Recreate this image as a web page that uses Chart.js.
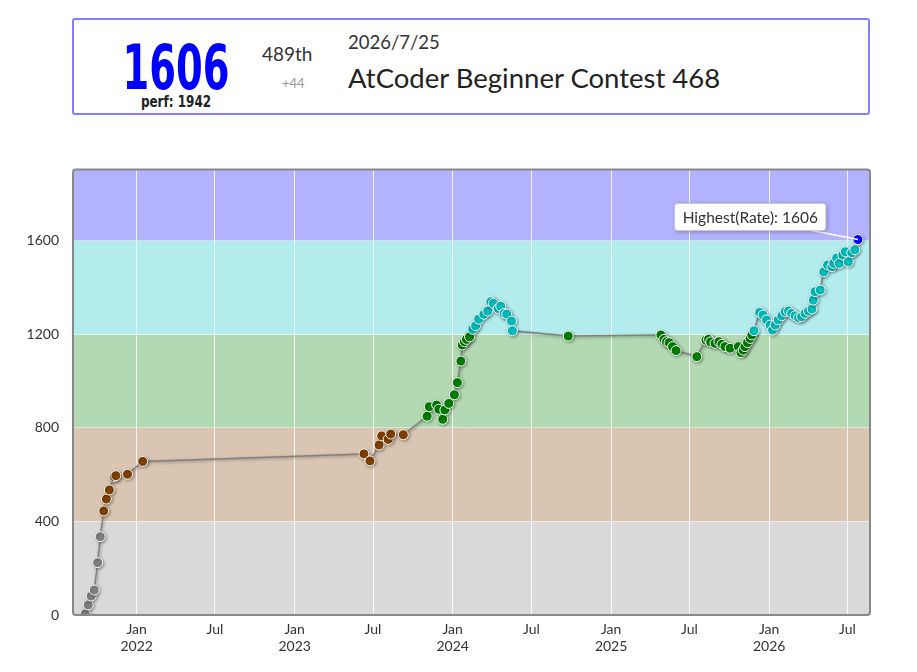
<!DOCTYPE html>
<html>
<head>
<meta charset="utf-8">
<script src="https://cdn.jsdelivr.net/npm/chart.js@4.4.1/dist/chart.umd.min.js"></script>
<style>
  body { margin: 0; background: #fff; font-family: Lato, "Noto Sans", sans-serif; }
  #head {
    position: absolute; left: 72px; top: 18px; width: 798px; height: 97px;
    box-sizing: border-box; border: 2px solid #8080ff; border-radius: 3px; background: #fff;
  }
  #rate {
    position: absolute; left: 18px; top: 17px; width: 160px; text-align: center;
    font: bold 62px "DejaVu Sans", sans-serif; color: #0000ff; line-height: 62px;
    transform: scaleX(0.62); transform-origin: 50% 50%;
  }
  #perf {
    position: absolute; left: 42px; top: 73px; width: 120px; text-align: center;
    font: bold 15px "DejaVu Sans", sans-serif; color: #222;
    transform: scaleX(0.8); transform-origin: 50% 50%;
  }
  #rank { position: absolute; left: 188px; top: 22px; font-size: 19px; color: #333; }
  #diff { position: absolute; left: 208px; top: 55px; font-size: 13px; color: #999; }
  #date { position: absolute; left: 274px; top: 11px; font-size: 18.5px; color: #333; }
  #contest { position: absolute; left: 274px; top: 41px; font-size: 27.5px; color: #222; }
  #wrap { position: absolute; left: 0; top: 147px; width: 917px; height: 525px; }
</style>
</head>
<body>
<div id="head">
  <div id="rate"></div>
  <div id="perf"></div>
  <div id="rank"></div>
  <div id="diff"></div>
  <div id="date"></div>
  <div id="contest"></div>
</div>
<div id="wrap"><canvas id="graph"></canvas></div>
<script>
// contest history (date, rating after contest)
const dates = [
  '2021-09-04', '2021-09-11', '2021-09-18', '2021-09-25', '2021-10-03', '2021-10-09',
  '2021-10-17', '2021-10-23', '2021-10-30', '2021-11-10', '2021-11-14', '2021-12-11',
  '2022-01-15',
  '2023-06-10', '2023-06-24', '2023-07-15', '2023-07-21', '2023-08-05', '2023-08-11',
  '2023-09-09', '2023-11-03', '2023-11-08', '2023-11-25', '2023-11-30', '2023-12-09',
  '2023-12-14', '2023-12-23',
  '2024-01-05', '2024-01-12', '2024-01-20', '2024-01-23', '2024-01-28', '2024-02-02',
  '2024-02-09', '2024-02-16', '2024-02-23', '2024-03-01', '2024-03-13', '2024-03-22',
  '2024-03-29', '2024-04-04', '2024-04-15', '2024-04-21', '2024-04-29', '2024-05-05',
  '2024-05-16', '2024-05-18', '2024-09-24',
  '2025-04-26', '2025-05-03', '2025-05-09', '2025-05-15', '2025-05-23', '2025-05-31',
  '2025-07-18', '2025-08-08', '2025-08-14', '2025-08-19', '2025-08-29', '2025-09-07',
  '2025-09-14', '2025-09-21', '2025-10-03', '2025-10-22', '2025-10-28', '2025-11-02',
  '2025-11-06', '2025-11-12', '2025-11-18', '2025-11-22', '2025-11-27', '2025-12-10',
  '2025-12-18', '2025-12-26',
  '2026-01-03', '2026-01-09', '2026-01-15', '2026-01-22', '2026-01-30', '2026-02-07',
  '2026-02-15', '2026-02-22', '2026-03-02', '2026-03-10', '2026-03-17', '2026-03-25',
  '2026-04-02', '2026-04-10', '2026-04-13', '2026-04-17', '2026-04-29', '2026-05-07',
  '2026-05-16', '2026-05-26', '2026-05-30', '2026-06-06', '2026-06-12', '2026-06-20',
  '2026-06-26', '2026-07-03', '2026-07-11', '2026-07-18', '2026-07-25'
];
const ratings = [
  5, 43, 81, 107, 224, 335,
  445, 496, 535, 592, 596, 602,
  657,
  689, 659, 727, 766, 751, 774,
  771, 850, 891, 898, 880, 837,
  877, 905,
  942, 994, 1086, 1155, 1169, 1179,
  1190, 1222, 1237, 1265, 1286, 1300,
  1340, 1333, 1311, 1321, 1290, 1287,
  1257, 1216, 1193,
  1198, 1179, 1169, 1165, 1148, 1131,
  1105, 1176, 1179, 1168, 1162, 1169,
  1158, 1148, 1141, 1148, 1122, 1133,
  1148, 1165, 1183, 1198, 1216, 1294,
  1283, 1262,
  1240, 1219, 1240, 1262, 1280, 1297,
  1300, 1290, 1280, 1272, 1276, 1290,
  1300, 1309, 1347, 1383, 1390, 1468,
  1497, 1490, 1504, 1527, 1504, 1540,
  1554, 1511, 1550, 1562, 1606
];

// axis ticks
const tickDates = ['2022-01-01', '2022-07-01', '2023-01-01', '2023-07-01', '2024-01-01',
  '2024-07-01', '2025-01-01', '2025-07-01', '2026-01-01', '2026-07-01'];
const tickLabels = [['Jan', '2022'], 'Jul', ['Jan', '2023'], 'Jul', ['Jan', '2024'],
  'Jul', ['Jan', '2025'], 'Jul', ['Jan', '2026'], 'Jul'];
const yTicks = [0, 400, 800, 1200, 1600];

// rating bands
const bandEdges = [0, 400, 800, 1200, 1600, 2000];
const bandColors = ['#d9d9d9', '#d9c5b2', '#b2d9b2', '#b2ecec', '#b2b2ff'];
const dotColors = ['#808080', '#804000', '#008000', '#00c0c0', '#0000ff'];

// latest contest box
const lastRate = 1606, lastPerf = 1942, lastRank = '489th', lastDiff = '+44';
const lastDate = '2026/7/25', lastContest = 'AtCoder Beginner Contest 468';
const highest = 1606;

document.getElementById('rate').textContent = lastRate;
document.getElementById('perf').textContent = 'perf: ' + lastPerf;
document.getElementById('rank').textContent = lastRank;
document.getElementById('diff').textContent = lastDiff;
document.getElementById('date').textContent = lastDate;
document.getElementById('contest').textContent = lastContest;

const DAY = 86400000;
const toMs = s => Date.parse(s + 'T00:00:00Z');
const points = dates.map((d, i) => ({ x: toMs(d), y: ratings[i] }));
const colorOf = r => dotColors[Math.min(dotColors.length - 1, Math.floor(r / 400))];

// fondo de colores por rango
const bands = {
  id: 'bands',
  beforeDraw(chart) {
    const { ctx, chartArea: a, scales: { y } } = chart;
    ctx.save();
    for (let i = 0; i < bandColors.length; i++) {
      const top = Math.max(a.top, y.getPixelForValue(bandEdges[i + 1]));
      const bot = Math.min(a.bottom, y.getPixelForValue(bandEdges[i]));
      if (bot <= top) continue;
      ctx.fillStyle = bandColors[i];
      ctx.fillRect(a.left, top, a.right - a.left, bot - top);
    }
    ctx.restore();
  }
};

// sombra de linea y puntos
const shadow = {
  id: 'shadow',
  beforeDatasetsDraw(chart) {
    const ctx = chart.ctx;
    ctx.save();
    ctx.shadowColor = 'rgba(0,0,0,0.35)';
    ctx.shadowBlur = 3;
    ctx.shadowOffsetX = 1;
    ctx.shadowOffsetY = 1;
  },
  afterDatasetsDraw(chart) {
    chart.ctx.restore();
  }
};

// marco y etiqueta del maximo
const frame = {
  id: 'frame',
  afterDraw(chart) {
    const { ctx, chartArea: a } = chart;
    ctx.save();
    ctx.strokeStyle = '#888';
    ctx.lineWidth = 2;
    ctx.beginPath();
    ctx.roundRect(a.left, a.top, a.right - a.left, a.bottom - a.top, 3);
    ctx.stroke();

    const idx = ratings.indexOf(highest);
    const el = chart.getDatasetMeta(0).data[idx];
    const text = 'Highest(Rate): ' + highest;
    ctx.font = '15.5px Lato, "Noto Sans", sans-serif';
    const w = ctx.measureText(text).width + 16, h = 27;
    const bx = el.x - 32 - w, by = el.y - 36;
    ctx.strokeStyle = '#fff';
    ctx.lineWidth = 1.5;
    ctx.beginPath();
    ctx.moveTo(bx + w - 14, by + h);
    ctx.lineTo(el.x, el.y);
    ctx.stroke();
    ctx.shadowColor = 'rgba(0,0,0,0.35)';
    ctx.shadowBlur = 4;
    ctx.shadowOffsetX = 1;
    ctx.shadowOffsetY = 1;
    ctx.fillStyle = '#fff';
    ctx.beginPath();
    ctx.roundRect(bx, by, w, h, 3);
    ctx.fill();
    ctx.shadowColor = 'transparent';
    ctx.strokeStyle = '#ccc';
    ctx.lineWidth = 1;
    ctx.stroke();
    ctx.fillStyle = '#333';
    ctx.textBaseline = 'middle';
    ctx.fillText(text, bx + 8, by + h / 2 + 1);
    ctx.restore();
  }
};

new Chart(document.getElementById('graph'), {
  type: 'line',
  data: {
    datasets: [{
      data: points,
      borderColor: '#808080',
      borderWidth: 1.5,
      tension: 0,
      pointRadius: 5,
      pointHoverRadius: 5,
      pointBorderColor: '#fff',
      pointBorderWidth: 1,
      pointBackgroundColor: c => colorOf(c.raw ? c.raw.y : 0)
    }]
  },
  options: {
    responsive: true,
    maintainAspectRatio: false,
    animation: false,
    events: [],
    layout: { padding: { top: 13, right: 47, left: 0, bottom: 0 } },
    plugins: { legend: { display: false }, tooltip: { enabled: false } },
    scales: {
      x: {
        type: 'linear',
        min: toMs(dates[0]) - 28 * DAY,
        max: toMs(dates[dates.length - 1]) + 28 * DAY,
        afterBuildTicks: s => { s.ticks = tickDates.map(d => ({ value: toMs(d) })); },
        afterFit: s => { s.height = 57; },
        ticks: {
          autoSkip: false, maxRotation: 0, padding: 6, color: '#333',
          font: { family: 'Lato', size: 14 },
          callback: (v, i) => tickLabels[i]
        },
        grid: { color: 'rgba(255,255,255,0.8)', lineWidth: 1, tickLength: 0, drawTicks: false },
        border: { display: false }
      },
      y: {
        min: 0,
        max: 1906,
        afterBuildTicks: s => { s.ticks = yTicks.map(v => ({ value: v })); },
        afterFit: s => { s.width = 73; },
        ticks: {
          padding: 14, color: '#333', font: { family: 'Lato', size: 14 },
          callback: v => String(v)
        },
        grid: { color: 'rgba(255,255,255,0.5)', lineWidth: 1, drawTicks: false },
        border: { display: false }
      }
    }
  },
  plugins: [bands, shadow, frame]
});
</script>
</body>
</html>
